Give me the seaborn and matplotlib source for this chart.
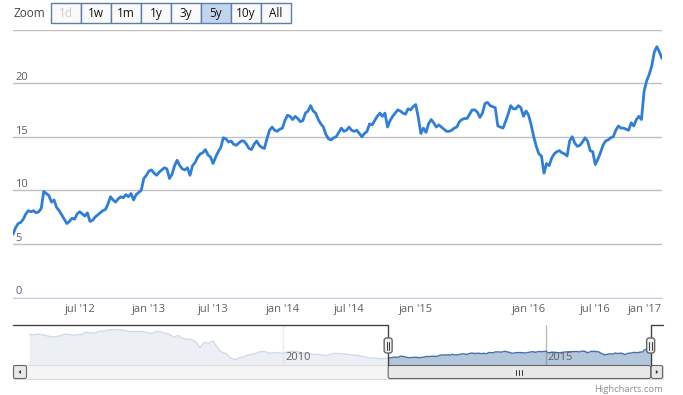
import matplotlib
matplotlib.use('Agg')
import matplotlib.pyplot as plt
from matplotlib.patches import Rectangle, FancyBboxPatch, Polygon
import numpy as np
import pandas as pd
import seaborn as sns

# weekly closes (mondays); the feed has no rows 2015-06-08 .. 2015-07-27
v2012 = [5.9, 6.5, 6.9, 7.0, 7.3, 7.8, 8.1, 8.0, 8.1, 7.9, 8.0, 8.3, 9.9,
         9.7, 9.5, 8.9, 9.1, 8.4, 8.1, 7.7, 7.3, 6.9, 7.1, 7.4, 7.3, 7.8,
         8.0, 7.8, 7.6, 7.9, 7.1, 7.2, 7.5, 7.7, 7.9, 8.1, 8.2, 8.7, 9.4,
         9.1, 8.9, 9.2, 9.4, 9.3, 9.6, 9.4, 9.7, 9.1, 9.6, 9.8, 10.0, 11.1,
         11.4]
v2013 = [11.8, 11.9, 11.6, 11.4, 11.7, 11.9, 12.1, 12.0, 11.1, 11.5, 12.3, 12.8, 12.3,
         12.0, 11.9, 12.1, 11.4, 12.3, 12.6, 13.1, 13.4, 13.5, 13.8, 13.3, 13.1, 12.5,
         13.1, 13.6, 14.0, 14.9, 14.8, 14.5, 14.6, 14.3, 14.2, 14.4, 14.6, 14.6, 14.3,
         13.9, 13.8, 14.3, 14.6, 14.2, 14.0, 13.9, 14.8, 15.6, 15.9, 15.6, 15.5, 15.7]
v2014 = [15.8, 16.5, 17.0, 16.9, 16.6, 16.9, 16.7, 16.4, 16.5, 17.2, 17.4, 17.9, 17.4,
         17.2, 16.6, 16.2, 15.9, 15.2, 14.8, 14.7, 14.9, 15.0, 15.4, 15.8, 15.5, 15.6,
         15.9, 15.6, 15.5, 15.6, 15.3, 15.0, 15.3, 15.5, 16.2, 16.1, 16.5, 16.9, 17.2,
         16.9, 17.2, 15.9, 16.5, 16.9, 17.2, 17.5, 17.4, 17.2, 17.1, 17.6, 17.5, 17.8]
v2015 = [18.0, 16.8, 15.3, 15.8, 15.4, 16.2, 16.6, 16.3, 15.9, 16.1, 15.9, 15.7, 15.5,
         15.5, 15.6, 15.8, 15.9, 16.4, 16.6, 16.7, 16.7, 17.1, 17.5, 17.5, 17.3, 16.8,
         17.2, 18.1, 18.2, 17.9, 17.8, 17.7, 16.0, 15.9, 15.8, 16.4, 17.1, 17.9, 17.6,
         17.6, 17.9, 17.7, 16.9, 17.4]
v2016 = [17.0, 16.1, 15.0, 14.1, 13.4, 13.2, 11.6, 12.5, 12.3, 13.0, 13.4, 13.6, 13.7,
         13.5, 13.4, 13.2, 14.6, 15.0, 14.4, 14.1, 14.2, 14.5, 14.9, 14.6, 13.7, 13.6,
         12.4, 12.9, 13.5, 14.2, 14.6, 14.7, 14.9, 15.0, 15.6, 16.0, 15.8, 15.8, 15.7,
         15.6, 16.3, 16.0, 16.6, 16.9, 16.6, 19.2, 20.2, 20.8, 21.6, 22.9, 23.4, 22.9]
v2017 = [22.3]

# navigator history, monthly, mar 2005 - dec 2011
h2005 = [46.0, 45.2, 46.3, 45.6, 43.6, 42.1, 42.1, 43.7, 46.1, 46.1]
h2006 = [44.2, 45.5, 45.5, 50.1, 48.4, 48.1, 51.5, 51.5, 53.6, 53.9, 53.9, 53.4]
h2007 = [52.6, 50.5, 51.0, 51.0, 50.7, 48.9, 47.4, 50.7, 50.3, 48.3, 46.0, 41.3]
h2008 = [44.3, 39.7, 37.9, 37.5, 34.0, 23.9, 32.9, 31.1, 35.0, 24.2, 16.2, 14.1]
h2009 = [6.6, 3.9, 6.8, 8.9, 11.3, 13.2, 14.8, 17.6, 16.9, 14.6, 15.8, 15.1]
h2010 = [14.4, 16.7, 17.9, 17.8, 15.7, 14.4, 14.0, 12.5, 13.1, 11.4, 10.9, 13.3]
h2011 = [14.5, 13.9, 13.3, 12.3, 11.7, 11.0, 9.7, 8.2, 6.1, 6.8, 5.4, 5.6]

zoom_buttons = ['1d', '1w', '1m', '1y', '3y', '5y', '10y', 'All']
selected_button = '5y'
disabled_button = '1d'
y_ticks = [0, 5, 10, 15, 20, 25]
y_labels = ['0', '5', '10', '15', '20']
tick_months = [(2012, 7), (2013, 1), (2013, 7), (2014, 1), (2014, 7),
               (2015, 1), (2015, 7), (2016, 1), (2016, 7), (2017, 1)]
month_names = {1: 'jan', 7: 'jul'}
nav_years = [2010, 2015]

sns.set_style('white')
plt.rcParams['font.family'] = ['Open Sans', 'DejaVu Sans']

dates = pd.date_range('2012-01-02', '2017-01-02', freq='W-MON')
dates = dates[(dates < '2015-06-08') | (dates > '2015-07-27')]
close = v2012 + v2013 + v2014 + v2015 + v2016 + v2017
df = pd.DataFrame({'date': dates, 'close': close})
df['pos'] = np.arange(len(df))  # ordinal axis like highstock
df['year_frac'] = df['date'].dt.year + (df['date'].dt.dayofyear - 1) / 365.25

# ticks: first row of each month, skipped if the month is missing
tick_pos, tick_lab = [], []
for yr, mo in tick_months:
    hit = df[df['date'] >= pd.Timestamp(yr, mo, 1)]
    if len(hit) and hit['date'].iloc[0].month == mo:
        tick_pos.append(hit['pos'].iloc[0])
        tick_lab.append(f"{month_names[mo]} '{yr % 100:02d}")

W, H = 683, 395


def frac(x0, y0, x1, y1):
    return [x0 / W, 1 - y1 / H, (x1 - x0) / W, (y1 - y0) / H]


fig = plt.figure(figsize=(W / 100, H / 100), dpi=100)

# ---- main chart
ax = fig.add_axes(frac(13, 29.5, 662, 297.5))
sns.lineplot(data=df, x='pos', y='close', ax=ax, color='#2f7ed8', linewidth=2, zorder=3)
ax.set_xlim(0, len(df) - 1)
ax.set_ylim(0, 25)
for s in ['top', 'left', 'right']:
    ax.spines[s].set_visible(False)
ax.spines['bottom'].set_color('#C0D0E0')
ax.set_yticks(y_ticks)
ax.tick_params(axis='y', length=0, labelleft=False)
ax.yaxis.grid(True, color='#C0C0C0', linewidth=1)
ax.set_axisbelow(True)
ax.set_xticks(tick_pos, tick_lab)
ax.tick_params(axis='x', length=3.6, width=1, color='#C0D0E0',
               labelcolor='#606060', labelsize=8, pad=1)
ax.get_xticklabels()[-1].set_ha('right')
ax.set_xlabel('')
ax.set_ylabel('')
for v, lab in zip(y_ticks, y_labels):
    ax.text(2 / 649, v, lab, transform=ax.get_yaxis_transform(), ha='left',
            va='bottom', color='#606060', fontsize=8)

# ---- navigator
hist_dates = pd.date_range('2005-03-01', '2011-12-01', freq='MS')
hist_vals = h2005 + h2006 + h2007 + h2008 + h2009 + h2010 + h2011
hist_frac = hist_dates.year + (hist_dates.month - 1) / 12
nav_x = np.concatenate([np.asarray(hist_frac, float), df['year_frac'].to_numpy()])
nav_y = np.array(hist_vals + close)

nl = 2004.857
nr = nl + 650 / 52.5
sel_lo = df['year_frac'].iloc[0]
sel_hi = df['year_frac'].iloc[-1]

nav = fig.add_axes(frac(13, 325, 663, 365))
for yr in nav_years:
    nav.axvline(yr, color='#BBBBBB', lw=1, zorder=0.5)
    nav.text(yr + 2 / 52.5, 0.2, str(yr), transform=nav.get_xaxis_transform(),
             ha='left', va='center', color='#606060', fontsize=8, zorder=5)
nav.fill_between(nav_x, nav_y, -5, color='#4572A7', alpha=0.4, lw=0, zorder=1)
sns.lineplot(x=nav_x, y=nav_y, ax=nav, color='#4572A7', linewidth=1, zorder=2)
nav.axvspan(nl, sel_lo, color='white', alpha=0.75, lw=0, zorder=3)
nav.axvspan(sel_hi, nr, color='white', alpha=0.75, lw=0, zorder=3)
nav.set_xlim(nl, nr)
nav.set_ylim(-5, 61.7)
nav.axis('off')

# ---- decorations in pixel space
deco = fig.add_axes([0, 0, 1, 1], zorder=5)
deco.set_xlim(0, W)
deco.set_ylim(H, 0)
deco.axis('off')

deco.text(13, 13.5, 'Zoom', ha='left', va='center', color='#444444', fontsize=8.5)
for i, b in enumerate(zoom_buttons):
    bx = 51 + 30 * i
    fc = '#C2D5EF' if b == selected_button else '#FAFAFA'
    deco.add_patch(Rectangle((bx, 3), 30, 20, fc=fc, ec='#5B7FAA', lw=1))
    tc = '#CCCCCC' if b == disabled_button else '#111111'
    deco.text(bx + 15, 13.5, b, ha='center', va='center', color=tc, fontsize=8.5)

px_lo = 13 + (sel_lo - nl) * 52.5
px_hi = 13 + (sel_hi - nl) * 52.5

# scrollbar
deco.add_patch(Rectangle((13, 365), 650, 14, fc='#F5F5F5', ec='#DDDDDD', lw=0.8))
deco.add_patch(FancyBboxPatch((13.5, 365.5), 13, 13, boxstyle='round,pad=0,rounding_size=2',
                              fc='#E8E8E8', ec='#666666', lw=0.8))
deco.add_patch(Polygon([(18.5, 372), (21, 370), (21, 374)], closed=True, fc='#333333', ec='none'))
deco.add_patch(FancyBboxPatch((px_lo, 365.5), px_hi - px_lo, 13,
                              boxstyle='round,pad=0,rounding_size=2',
                              fc='#E8E8E8', ec='#666666', lw=0.8))
mid = (px_lo + px_hi) / 2
for dx in (-3, 0, 3):
    deco.plot([mid + dx, mid + dx], [369.5, 374.5], color='#333333', lw=0.7)
deco.add_patch(FancyBboxPatch((px_hi + 0.5, 365.5), 662.5 - px_hi - 0.5, 13,
                              boxstyle='round,pad=0,rounding_size=2',
                              fc='#E8E8E8', ec='#666666', lw=0.8))
rx = (px_hi + 663) / 2
deco.add_patch(Polygon([(rx + 1.5, 372), (rx - 1, 370), (rx - 1, 374)], closed=True,
                       fc='#333333', ec='none'))

# navigator outline and handles
deco.plot([13, px_lo, px_lo], [325, 325, 365], color='#444444', lw=1)
deco.plot([px_hi, px_hi, 663], [365, 325, 325], color='#444444', lw=1)
for px in (px_lo, px_hi):
    deco.add_patch(FancyBboxPatch((px - 4, 338), 8, 15, boxstyle='round,pad=0,rounding_size=2.5',
                                  fc='#F2F2F2', ec='#666666', lw=1, zorder=6))
    for dx in (-1.3, 1.3):
        deco.plot([px + dx, px + dx], [341.5, 349.5], color='#444444', lw=0.8, zorder=7)

deco.text(663, 390, 'Highcharts.com', ha='right', va='center', color='#909090', fontsize=6.8)

fig.savefig('out.png', dpi=100)
